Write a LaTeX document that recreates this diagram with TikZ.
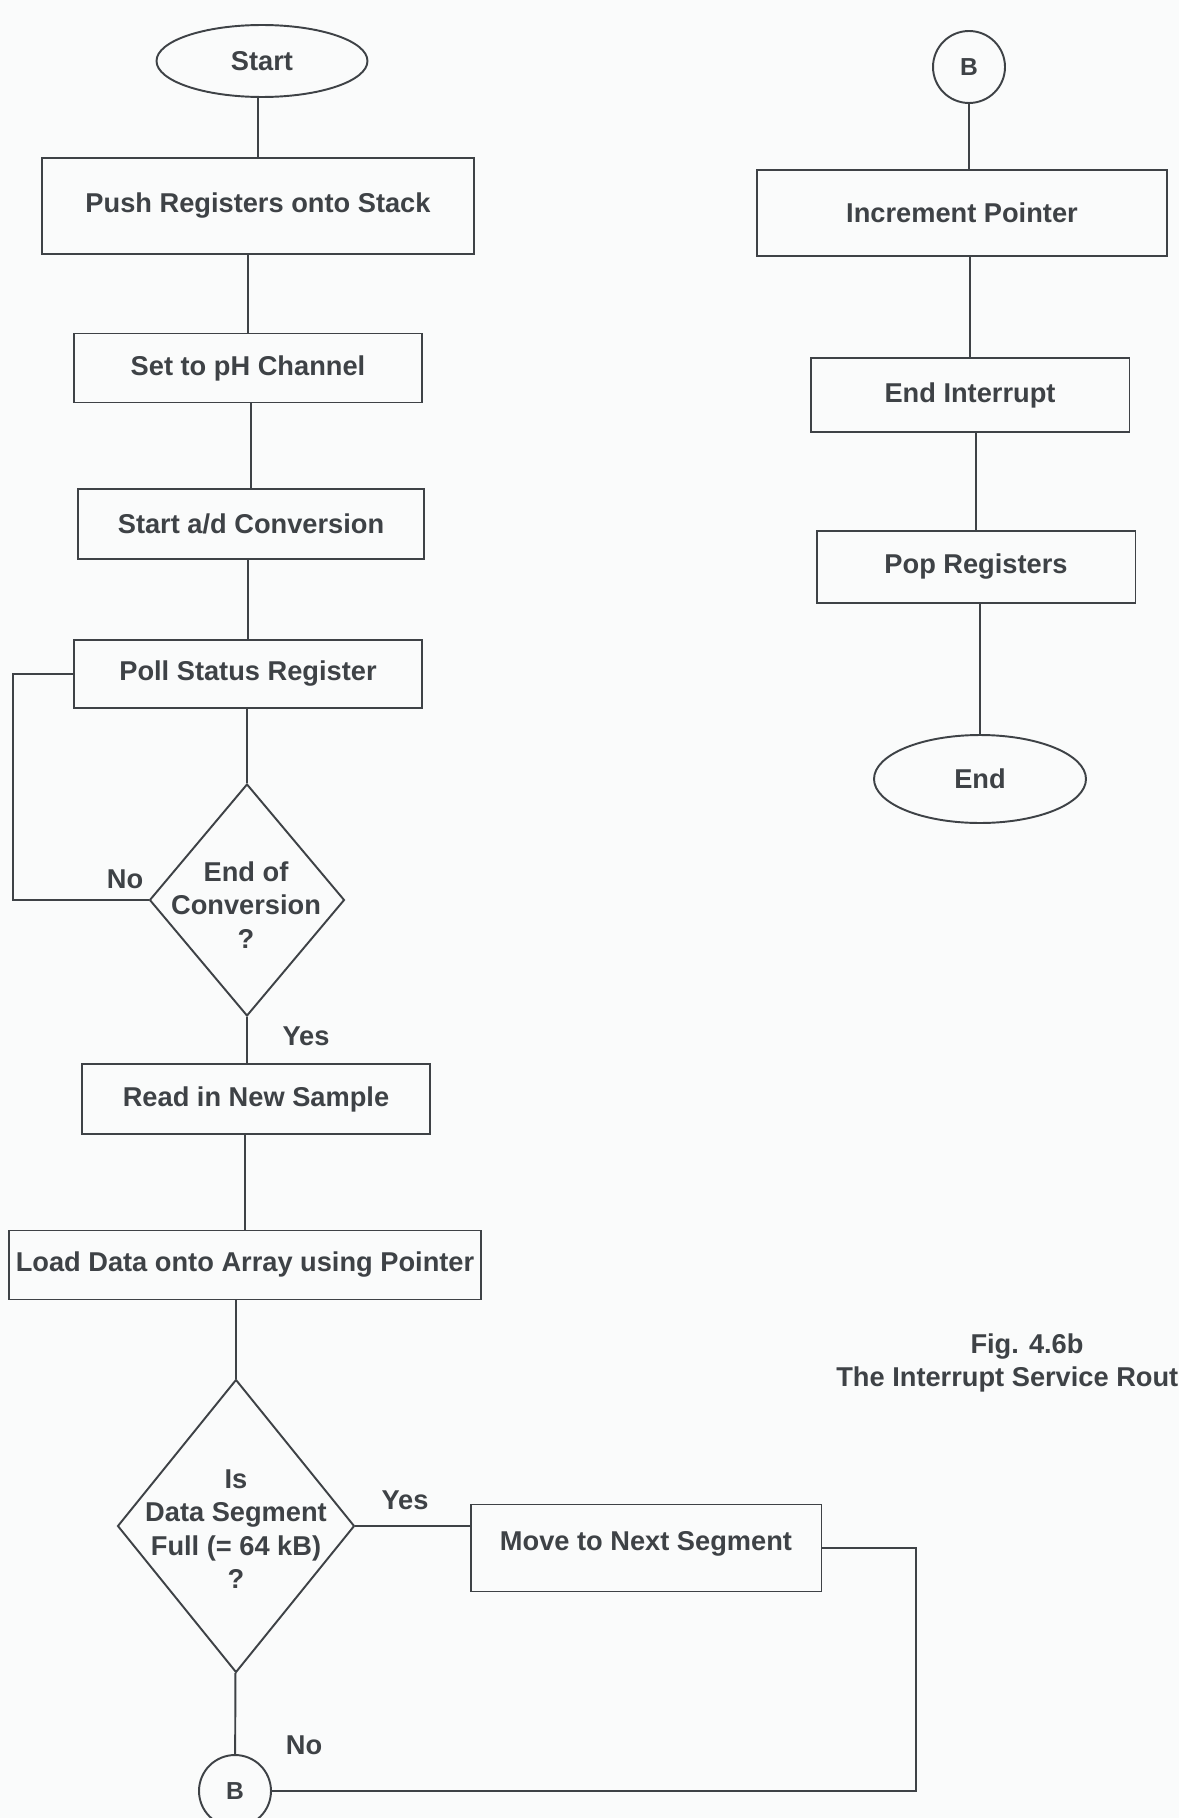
\documentclass[tikz,border=0pt]{standalone}
\usepackage{fontspec}
\setmainfont{Liberation Sans}
\usetikzlibrary{shapes.geometric}

\definecolor{ink}{RGB}{62,66,70}
\definecolor{paper}{RGB}{250,251,251}
\newcommand{\flowfont}{\fontsize{15.5pt}{19pt}\selectfont\bfseries}

\tikzset{
  box/.style={draw=ink, rectangle, inner sep=0pt, font=\flowfont, text=ink},
  term/.style={draw=ink, ellipse, inner sep=0pt, font=\flowfont, text=ink},
  conn/.style={draw=ink, circle, inner sep=0pt, minimum size=1.44cm, font=\fontsize{14pt}{16pt}\selectfont\bfseries, text=ink},
  decision/.style={draw=ink, diamond, inner sep=0pt},
  dtext/.style={align=center, font=\flowfont, text=ink},
  lbl/.style={font=\flowfont, text=ink}
}

\begin{document}
\begin{tikzpicture}[x=0.02cm, y=-0.02cm, line width=1.1pt, draw=ink]
  \fill[paper] (0,0) rectangle (1179,1818);
  \useasboundingbox (0,0) rectangle (1179,1818);

  % main routine
  \node[term, minimum width=4.22cm, minimum height=1.44cm] (Start) at (262,61) {Start};
  \node[box, minimum width=8.64cm, minimum height=1.92cm] (Push) at (258,206) {Push Registers onto Stack};
  \node[box, minimum width=6.96cm, minimum height=1.38cm] (SetpH) at (248,368) {Set to pH Channel};
  \node[box, minimum width=6.92cm, minimum height=1.40cm] (Conv) at (251,524) {Start a/d Conversion};
  \node[box, minimum width=6.96cm, minimum height=1.36cm] (Poll) at (248,674) {Poll Status Register};
  \node[decision, minimum width=3.9cm, minimum height=4.64cm] (EOC) at (247,900) {};
  \node[dtext] (EOCt) at (246,905) {End of\\Conversion\\?};
  \node[box, minimum width=6.96cm, minimum height=1.40cm] (Read) at (256,1099) {Read in New Sample};
  \node[box, minimum width=9.44cm, minimum height=1.38cm] (Load) at (245,1265) {Load Data onto Array using Pointer};
  \node[decision, minimum width=4.74cm, minimum height=5.86cm] (Full) at (236,1526) {};
  \node[dtext] (Fullt) at (236,1529) {Is\\Data Segment\\Full (= 64 kB)\\?};
  \node[box, minimum width=7.02cm, text height=0.92cm, text depth=0.82cm] (Next) at (646,1548) {Move to Next Segment};
  \node[conn] (B2) at (235,1791) {B};

  % continuation
  \node[conn] (B1) at (969,67) {B};
  \node[box, minimum width=8.2cm, minimum height=1.72cm] (Inc) at (962,213) {Increment Pointer};
  \node[box, minimum width=6.38cm, minimum height=1.48cm] (EndInt) at (970,395) {End Interrupt};
  \node[box, minimum width=6.38cm, minimum height=1.44cm] (Pop) at (976,567) {Pop Registers};
  \node[term, minimum width=4.24cm, minimum height=1.76cm] (End) at (980,779) {End};

  % branch labels and caption
  \node[lbl] (No1) at (125,879) {No};
  \node[lbl] (Yes1) at (306,1036) {Yes};
  \node[lbl] (Yes2) at (405,1500) {Yes};
  \node[lbl] (No2) at (304,1745) {No};
  \node[dtext] (Cap) at (1027,1363) {Fig. 4.6b\\The Interrupt Service Routine};

  \coordinate (Loop) at (13,900);
  \coordinate (Ret) at (916,1791);

  \draw (Start.south -| Push) -- (Push.north);
  \draw (Push.south -| SetpH) -- (SetpH.north);
  \draw (SetpH.south -| Conv) -- (Conv.north);
  \draw (Conv.south -| Poll) -- (Poll.north);
  \draw (Poll.south -| EOC) -- (EOC.north);
  \draw (EOC) -- (EOC |- Read.north);
  \draw (Read.south -| Load) -- (Load.north);
  \draw (Load.south -| Full) -- (Full.north);
  \draw (Full) -- (B2);
  \draw (EOC.west) -- (Loop) |- (Poll.west);
  \draw (Full.east) -- (Full.east -| Next.west);
  \draw (Next.east) -| (Ret) -- (B2);

  \draw (B1) -- (B1 |- Inc.north);
  \draw (Inc.south -| EndInt) -- (EndInt.north);
  \draw (EndInt.south -| Pop) -- (Pop.north);
  \draw (Pop.south -| End) -- (End.north);
\end{tikzpicture}
\end{document}
